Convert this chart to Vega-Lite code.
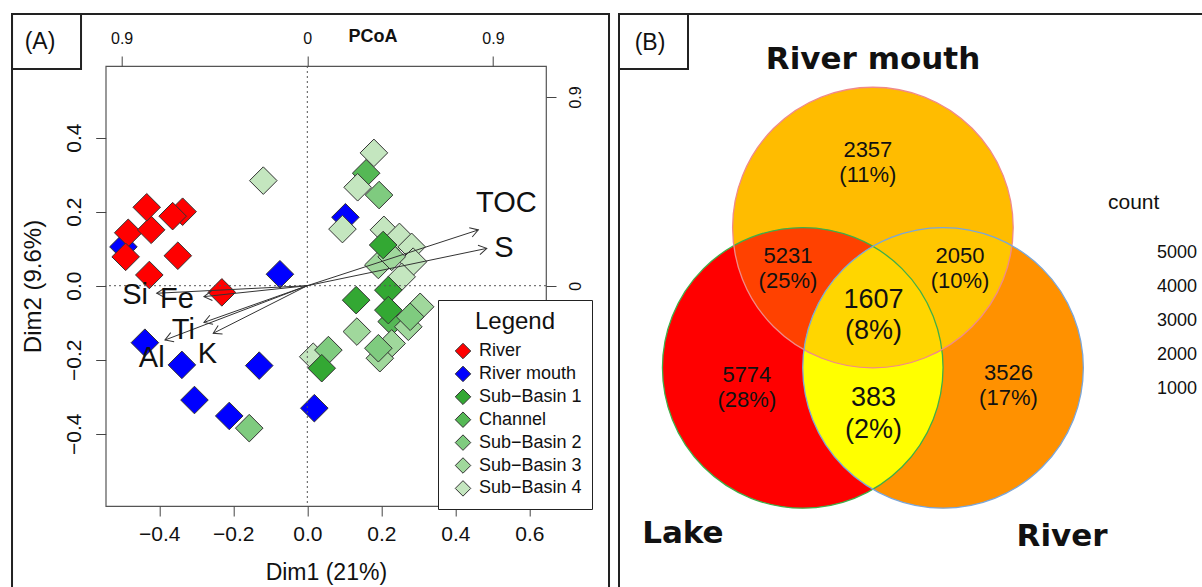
{
  "$schema": "https://vega.github.io/schema/vega-lite/v6.json",
  "width": 440.3,
  "height": 440,
  "autosize": {"type": "none"},
  "padding": {"left": 105.7, "top": 66, "right": 656, "bottom": 81},
  "background": "white",
  "config": {
    "font": "Liberation Sans",
    "view": {"stroke": "#555555", "strokeWidth": 1.2},
    "axis": {"grid": false, "domain": false, "tickColor": "#444444", "tickSize": 10, "labelColor": "#111111", "titleColor": "#111111", "titleFontWeight": "normal"}
  },
  "datasets": {
    "samples": [
      {"group": "River mouth", "dim1": -0.497, "dim2": 0.105},
      {"group": "River mouth", "dim1": 0.103, "dim2": 0.185},
      {"group": "River mouth", "dim1": -0.074, "dim2": 0.031},
      {"group": "River mouth", "dim1": -0.439, "dim2": -0.154},
      {"group": "River mouth", "dim1": -0.339, "dim2": -0.214},
      {"group": "River mouth", "dim1": -0.130, "dim2": -0.216},
      {"group": "River mouth", "dim1": -0.305, "dim2": -0.309},
      {"group": "River mouth", "dim1": -0.211, "dim2": -0.352},
      {"group": "River mouth", "dim1": 0.019, "dim2": -0.331},
      {"group": "River", "dim1": -0.484, "dim2": 0.143},
      {"group": "River", "dim1": -0.491, "dim2": 0.078},
      {"group": "River", "dim1": -0.422, "dim2": 0.151},
      {"group": "River", "dim1": -0.434, "dim2": 0.212},
      {"group": "River", "dim1": -0.337, "dim2": 0.200},
      {"group": "River", "dim1": -0.364, "dim2": 0.188},
      {"group": "River", "dim1": -0.350, "dim2": 0.081},
      {"group": "River", "dim1": -0.427, "dim2": 0.029},
      {"group": "River", "dim1": -0.231, "dim2": -0.018},
      {"group": "Channel", "dim1": 0.159, "dim2": 0.304},
      {"group": "Channel", "dim1": 0.228, "dim2": -0.097},
      {"group": "Sub−Basin 4", "dim1": 0.180, "dim2": 0.359},
      {"group": "Sub−Basin 4", "dim1": 0.136, "dim2": 0.266},
      {"group": "Sub−Basin 4", "dim1": 0.095, "dim2": 0.153},
      {"group": "Sub−Basin 4", "dim1": 0.207, "dim2": 0.151},
      {"group": "Sub−Basin 4", "dim1": 0.249, "dim2": 0.132},
      {"group": "Sub−Basin 4", "dim1": 0.282, "dim2": 0.105},
      {"group": "Sub−Basin 4", "dim1": 0.286, "dim2": 0.065},
      {"group": "Sub−Basin 4", "dim1": 0.255, "dim2": 0.024},
      {"group": "Sub−Basin 4", "dim1": 0.016, "dim2": -0.192},
      {"group": "Sub−Basin 4", "dim1": -0.119, "dim2": 0.284},
      {"group": "Sub−Basin 3", "dim1": 0.192, "dim2": 0.056},
      {"group": "Sub−Basin 3", "dim1": 0.228, "dim2": 0.078},
      {"group": "Sub−Basin 3", "dim1": 0.305, "dim2": -0.057},
      {"group": "Sub−Basin 3", "dim1": 0.273, "dim2": -0.111},
      {"group": "Sub−Basin 3", "dim1": 0.134, "dim2": -0.124},
      {"group": "Sub−Basin 3", "dim1": 0.228, "dim2": -0.156},
      {"group": "Sub−Basin 3", "dim1": 0.196, "dim2": -0.196},
      {"group": "Sub−Basin 2", "dim1": 0.194, "dim2": 0.245},
      {"group": "Sub−Basin 2", "dim1": 0.278, "dim2": -0.084},
      {"group": "Sub−Basin 2", "dim1": 0.192, "dim2": -0.169},
      {"group": "Sub−Basin 2", "dim1": 0.057, "dim2": -0.174},
      {"group": "Sub−Basin 2", "dim1": -0.157, "dim2": -0.385},
      {"group": "Sub−Basin 1", "dim1": 0.205, "dim2": 0.110},
      {"group": "Sub−Basin 1", "dim1": 0.219, "dim2": -0.012},
      {"group": "Sub−Basin 1", "dim1": 0.132, "dim2": -0.039},
      {"group": "Sub−Basin 1", "dim1": 0.219, "dim2": -0.066},
      {"group": "Sub−Basin 1", "dim1": 0.039, "dim2": -0.223}
    ],
    "vectors": [
      {"variable": "TOC", "x": 0.829, "y": 0.266, "lx": 0.965, "ly": 0.393},
      {"variable": "S", "x": 0.870, "y": 0.178, "lx": 0.953, "ly": 0.178},
      {"variable": "Si", "x": -0.730, "y": -0.036, "lx": -0.835, "ly": -0.044},
      {"variable": "Fe", "x": -0.501, "y": -0.052, "lx": -0.632, "ly": -0.063},
      {"variable": "Ti", "x": -0.501, "y": -0.175, "lx": -0.601, "ly": -0.211},
      {"variable": "Al", "x": -0.690, "y": -0.259, "lx": -0.754, "ly": -0.345},
      {"variable": "K", "x": -0.456, "y": -0.227, "lx": -0.484, "ly": -0.326}
    ],
    "sets": [
      {"set": "Lake", "cx": 1.339, "cy": -0.222, "count": 5774, "lx": 1.015, "ly": -0.671},
      {"set": "River mouth", "cx": 1.5286, "cy": 0.1572, "count": 2357, "lx": 1.529, "ly": 0.610},
      {"set": "River", "cx": 1.7182, "cy": -0.222, "count": 3526, "lx": 2.040, "ly": -0.679}
    ],
    "overlaps": [
      {"region": "Lake ∩ River mouth", "count": 5231, "anchor": "Lake"},
      {"region": "River mouth ∩ River", "count": 2050, "anchor": "Lake"},
      {"region": "Lake ∩ River", "count": 383, "anchor": "Lake"},
      {"region": "Lake ∩ River mouth ∩ River", "count": 1607, "anchor": "Lake"}
    ],
    "regions": [
      {"region": "River mouth only", "count": 2357, "pct": "(11%)", "x": 1.515, "y": 0.333},
      {"region": "Lake ∩ River mouth", "count": 5231, "pct": "(25%)", "x": 1.299, "y": 0.047},
      {"region": "River mouth ∩ River", "count": 2050, "pct": "(10%)", "x": 1.764, "y": 0.047},
      {"region": "Lake ∩ River mouth ∩ River", "count": 1607, "pct": "(8%)", "x": 1.530, "y": -0.081},
      {"region": "Lake only", "count": 5774, "pct": "(28%)", "x": 1.188, "y": -0.275},
      {"region": "Lake ∩ River", "count": 383, "pct": "(2%)", "x": 1.530, "y": -0.347},
      {"region": "River only", "count": 3526, "pct": "(17%)", "x": 1.895, "y": -0.271}
    ],
    "frames": [
      {"frame": "panel A", "x1": -0.7981, "x2": 0.8154, "y1": 0.7343, "y2": -0.85},
      {"frame": "tag A", "x1": -0.7981, "x2": -0.6116, "y1": 0.7343, "y2": 0.5857},
      {"frame": "panel B", "x1": 0.8424, "x2": 2.45, "y1": 0.7343, "y2": -0.85},
      {"frame": "tag B", "x1": 0.8424, "x2": 1.0289, "y1": 0.7343, "y2": 0.5857}
    ],
    "tags": [
      {"tag": "(A)", "x": -0.7224, "y": 0.6586},
      {"tag": "(B)", "x": 0.9262, "y": 0.6559}
    ]
  },
  "layer": [
    {
      "layer": [
        {
          "data": {"name": "samples"},
          "mark": {"type": "point", "shape": "diamond", "filled": true, "size": 760, "opacity": 1, "stroke": "#333333", "strokeWidth": 1},
          "encoding": {
            "x": {
              "field": "dim1", "type": "quantitative",
              "scale": {"domain": [-0.5449, 0.6451], "nice": false, "zero": false},
              "axis": {"orient": "bottom", "values": [-0.4, -0.2, 0, 0.2, 0.4, 0.6], "format": ".1f", "labelFontSize": 21, "labelPadding": 7, "title": "Dim1 (21%)", "titleFontSize": 23, "titleX": 220.15, "titleY": 66.5, "titleBaseline": "middle", "titleAlign": "center"}
            },
            "y": {
              "field": "dim2", "type": "quantitative",
              "scale": {"domain": [-0.5954, 0.5938], "nice": false, "zero": false},
              "axis": {"orient": "left", "values": [-0.4, -0.2, 0, 0.2, 0.4], "format": ".1f", "labelFontSize": 21, "labelAngle": -90, "labelAlign": "center", "labelBaseline": "bottom", "labelPadding": 11, "title": "Dim2 (9.6%)", "titleFontSize": 24, "titleAngle": -90, "titleX": -72.7, "titleY": 220, "titleBaseline": "middle", "titleAlign": "center"}
            },
            "color": {
              "field": "group", "type": "nominal",
              "scale": {
                "domain": ["River", "River mouth", "Sub−Basin 1", "Channel", "Sub−Basin 2", "Sub−Basin 3", "Sub−Basin 4"],
                "range": ["#ff0000", "#0000ff", "#33a833", "#55b855", "#7fcb7f", "#a0d89c", "#c4e6bf"]
              },
              "legend": {
                "orient": "none", "legendX": 332.3, "legendY": 234,
                "title": "Legend", "titleFontSize": 24, "titleFontWeight": "normal", "titleColor": "#111111", "titleAnchor": "middle", "titlePadding": 8,
                "labelFontSize": 18, "labelColor": "#111111", "labelOffset": 7,
                "symbolType": "diamond", "symbolSize": 240, "symbolStrokeColor": "#333333", "symbolStrokeWidth": 1, "symbolOpacity": 1,
                "rowPadding": 2.9, "padding": 10, "symbolOffset": 6,
                "strokeColor": "#222222", "fillColor": "white"
              }
            }
          }
        },
        {
          "data": {"name": "frames"},
          "mark": {"type": "rect", "fillOpacity": 0, "stroke": "#222222", "strokeWidth": 2},
          "encoding": {
            "x": {"field": "x1", "type": "quantitative"},
            "x2": {"field": "x2"},
            "y": {"field": "y1", "type": "quantitative"},
            "y2": {"field": "y2"}
          }
        },
        {
          "data": {"values": [{}]},
          "mark": {"type": "rule", "strokeDash": [2, 3], "color": "#555555", "strokeWidth": 1},
          "encoding": {"x": {"datum": 0, "type": "quantitative"}}
        },
        {
          "data": {"values": [{}]},
          "mark": {"type": "rule", "strokeDash": [2, 3], "color": "#555555", "strokeWidth": 1},
          "encoding": {"y": {"datum": 0, "type": "quantitative"}}
        },
        {
          "data": {"name": "sets"},
          "mark": {"type": "point", "shape": "circle", "filled": true, "size": 78736, "opacity": 1, "strokeWidth": 0},
          "encoding": {
            "x": {"field": "cx", "type": "quantitative"},
            "y": {"field": "cy", "type": "quantitative"},
            "fill": {
              "field": "count", "type": "quantitative",
              "scale": {"type": "linear", "range": ["#ffff00", "#ff0000"], "interpolate": "lab", "zero": false, "nice": false},
              "legend": {
                "type": "gradient", "orient": "none", "legendX": 1002.3, "legendY": 126, "direction": "vertical",
                "title": "count", "titleFontSize": 21, "titleFontWeight": "normal", "titleColor": "#111111", "titlePadding": 14,
                "gradientLength": 183, "gradientThickness": 0, "gradientStrokeWidth": 0,
                "labelFontSize": 18, "labelColor": "#111111", "labelOffset": 49, "format": "d", "values": [1000, 2000, 3000, 4000, 5000], "padding": 0
              }
            }
          }
        },
        {
          "data": {"name": "overlaps"},
          "transform": [{"lookup": "anchor", "from": {"data": {"name": "sets"}, "key": "set", "fields": ["cx", "cy"]}}],
          "mark": {"type": "point", "filled": true, "size": 78736, "opacity": 1, "strokeWidth": 0},
          "encoding": {
            "x": {"field": "cx", "type": "quantitative"},
            "y": {"field": "cy", "type": "quantitative"},
            "fill": {"field": "count", "type": "quantitative"},
            "shape": {
              "field": "region", "type": "nominal", "legend": null,
              "scale": {
                "domain": ["Lake ∩ River mouth", "River mouth ∩ River", "Lake ∩ River", "Lake ∩ River mouth ∩ River"],
                "range": [
                  "M-0.4916,-0.8708A1,1 0 0,1 0.9916,-0.1292A1,1 0 0,1 -0.4916,-0.8708Z",
                  "M0.0084,-0.1292A1,1 0 0,1 1.4916,-0.8708A1,1 0 0,1 0.0084,-0.1292Z",
                  "M0.5,-0.866A1,1 0 0,1 0.5,0.866A1,1 0 0,1 0.5,-0.866Z",
                  "M0.5,-0.866A1,1 0 0,1 0.9916,-0.1292A1,1 0 0,1 0.0084,-0.1292A1,1 0 0,1 0.5,-0.866Z"
                ]
              }
            }
          }
        },
        {
          "data": {"name": "sets"},
          "mark": {"type": "point", "shape": "circle", "filled": false, "size": 78736, "opacity": 1, "strokeWidth": 1.3},
          "encoding": {
            "x": {"field": "cx", "type": "quantitative"},
            "y": {"field": "cy", "type": "quantitative"},
            "stroke": {
              "field": "set", "type": "nominal", "legend": null,
              "scale": {"domain": ["Lake", "River mouth", "River"], "range": ["#3fae49", "#f08a8a", "#7aa6da"]}
            }
          }
        },
        {
          "data": {"name": "regions"},
          "transform": [{"filter": {"not": {"field": "region", "oneOf": ["Lake ∩ River mouth ∩ River", "Lake ∩ River"]}}}],
          "encoding": {
            "x": {"field": "x", "type": "quantitative"},
            "y": {"field": "y", "type": "quantitative"}
          },
          "layer": [
            {"mark": {"type": "text", "fontSize": 22, "dy": -12.5, "color": "#111111"}, "encoding": {"text": {"field": "count", "type": "quantitative", "format": "d"}}},
            {"mark": {"type": "text", "fontSize": 22, "dy": 12.5, "color": "#111111"}, "encoding": {"text": {"field": "pct", "type": "nominal"}}}
          ]
        },
        {
          "data": {"name": "regions"},
          "transform": [{"filter": {"field": "region", "oneOf": ["Lake ∩ River mouth ∩ River", "Lake ∩ River"]}}],
          "encoding": {
            "x": {"field": "x", "type": "quantitative"},
            "y": {"field": "y", "type": "quantitative"}
          },
          "layer": [
            {"mark": {"type": "text", "fontSize": 27, "dy": -15.8, "color": "#111111"}, "encoding": {"text": {"field": "count", "type": "quantitative", "format": "d"}}},
            {"mark": {"type": "text", "fontSize": 27, "dy": 15.8, "color": "#111111"}, "encoding": {"text": {"field": "pct", "type": "nominal"}}}
          ]
        },
        {
          "data": {"name": "sets"},
          "mark": {"type": "text", "font": "DejaVu Sans", "fontWeight": "bold", "fontSize": 31, "color": "#111111"},
          "encoding": {
            "x": {"field": "lx", "type": "quantitative"},
            "y": {"field": "ly", "type": "quantitative"},
            "text": {"field": "set", "type": "nominal"}
          }
        },
        {
          "data": {"name": "tags"},
          "mark": {"type": "text", "fontSize": 23, "color": "#111111"},
          "encoding": {
            "x": {"field": "x", "type": "quantitative"},
            "y": {"field": "y", "type": "quantitative"},
            "text": {"field": "tag", "type": "nominal"}
          }
        }
      ]
    },
    {
      "data": {"name": "vectors"},
      "layer": [
        {
          "mark": {"type": "rule", "color": "#333333", "strokeWidth": 1},
          "encoding": {
            "x": {
              "field": "x", "type": "quantitative",
              "scale": {"domain": [-0.9772, 1.157], "nice": false, "zero": false},
              "axis": {"orient": "top", "values": [-0.9, 0, 0.9], "labelExpr": "abs(datum.value)", "labelFontSize": 16, "labelPadding": 10, "title": "PCoA", "titleFontSize": 18, "titleFontWeight": "bold", "titleX": 266.9, "titleY": -30, "titleBaseline": "middle", "titleAlign": "center"}
            },
            "y": {
              "field": "y", "type": "quantitative",
              "scale": {"domain": [-1.0505, 1.0477], "nice": false, "zero": false},
              "axis": {"orient": "right", "values": [0, 0.9], "labelExpr": "abs(datum.value)", "labelFontSize": 16, "labelAngle": -90, "labelAlign": "center", "labelBaseline": "top", "labelPadding": 11, "title": null}
            },
            "x2": {"datum": 0},
            "y2": {"datum": 0}
          }
        },
        {
          "transform": [{"calculate": "-atan2(datum.y * 209.7, datum.x * 206.3) * 180 / PI", "as": "heading"}],
          "mark": {"type": "point", "shape": "M-1,-0.6L0,0L-1,0.6", "filled": false, "size": 256, "opacity": 1, "stroke": "#333333", "strokeWidth": 1},
          "encoding": {
            "x": {"field": "x", "type": "quantitative"},
            "y": {"field": "y", "type": "quantitative"},
            "angle": {"field": "heading", "type": "quantitative", "scale": null}
          }
        },
        {
          "mark": {"type": "text", "fontSize": 29, "color": "#111111"},
          "encoding": {
            "x": {"field": "lx", "type": "quantitative"},
            "y": {"field": "ly", "type": "quantitative"},
            "text": {"field": "variable", "type": "nominal"}
          }
        }
      ]
    }
  ],
  "resolve": {"scale": {"x": "independent", "y": "independent"}}
}
